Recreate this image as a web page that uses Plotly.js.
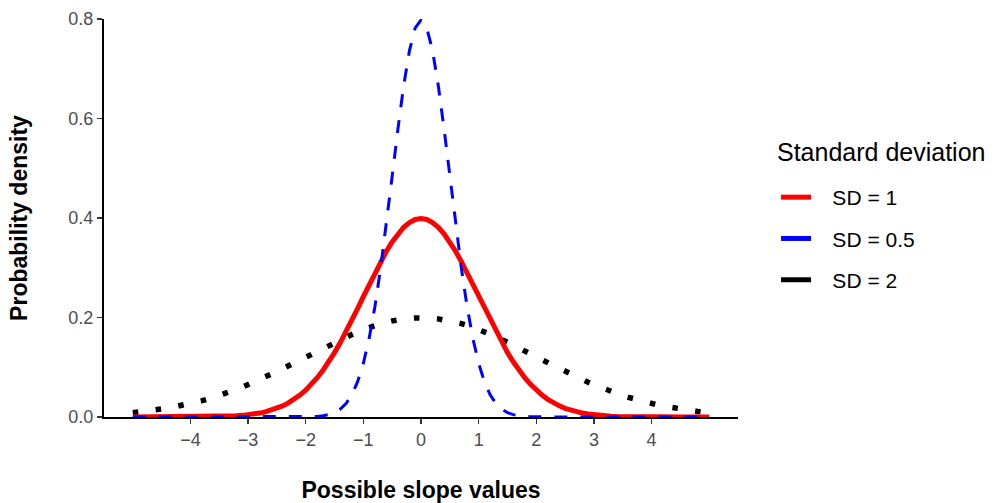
<!DOCTYPE html>
<html>
<head>
<meta charset="utf-8">
<script src="https://cdn.plot.ly/plotly-3.0.1.min.js"></script>
<style>html,body{margin:0;padding:0;background:#fff;}#chart{width:1000px;height:503px;}</style>
</head>
<body>
<div id="chart"></div>
<script>
// Possible slope values (x)
var xValues = [-5.0,-4.9,-4.8,-4.7,-4.6,-4.5,-4.4,-4.3,-4.2,-4.1,-4.0,-3.9,-3.8,-3.7,-3.6,-3.5,-3.4,-3.3,-3.2,-3.1,-3.0,-2.9,-2.8,-2.7,-2.6,-2.5,-2.4,-2.3,-2.2,-2.1,-2.0,-1.9,-1.8,-1.7,-1.6,-1.5,-1.4,-1.3,-1.2,-1.1,-1.0,-0.9,-0.8,-0.7,-0.6,-0.5,-0.4,-0.3,-0.2,-0.1,0.0,0.1,0.2,0.3,0.4,0.5,0.6,0.7,0.8,0.9,1.0,1.1,1.2,1.3,1.4,1.5,1.6,1.7,1.8,1.9,2.0,2.1,2.2,2.3,2.4,2.5,2.6,2.7,2.8,2.9,3.0,3.1,3.2,3.3,3.4,3.5,3.6,3.7,3.8,3.9,4.0,4.1,4.2,4.3,4.4,4.5,4.6,4.7,4.8,4.9,5.0];

// SD = 1
var densitySD1 = [0,0,0,0,0,0,0,0,0.0001,0.0001,0.0001,0.0002,0.0003,0.0004,0.0006,0.0009,0.0012,0.0017,0.0024,0.0033,0.0044,0.0060,0.0079,0.0104,0.0136,0.0175,0.0224,0.0283,0.0355,0.0440,0.0540,0.0656,0.0790,0.0940,0.1109,0.1295,0.1497,0.1714,0.1942,0.2179,0.2420,0.2661,0.2897,0.3123,0.3332,0.3521,0.3683,0.3814,0.3910,0.3970,0.3989,0.3970,0.3910,0.3814,0.3683,0.3521,0.3332,0.3123,0.2897,0.2661,0.2420,0.2179,0.1942,0.1714,0.1497,0.1295,0.1109,0.0940,0.0790,0.0656,0.0540,0.0440,0.0355,0.0283,0.0224,0.0175,0.0136,0.0104,0.0079,0.0060,0.0044,0.0033,0.0024,0.0017,0.0012,0.0009,0.0006,0.0004,0.0003,0.0002,0.0001,0.0001,0.0001,0,0,0,0,0,0,0,0];

// SD = 0.5
var densitySD05 = [0,0,0,0,0,0,0,0,0,0,0,0,0,0,0,0,0,0,0,0,0,0,0,0,0,0,0,0,0,0.0001,0.0003,0.0006,0.0012,0.0025,0.0048,0.0089,0.0158,0.0271,0.0448,0.0709,0.1080,0.1579,0.2218,0.2995,0.3884,0.4839,0.5794,0.6664,0.7365,0.7821,0.7979,0.7821,0.7365,0.6664,0.5794,0.4839,0.3884,0.2995,0.2218,0.1579,0.1080,0.0709,0.0448,0.0271,0.0158,0.0089,0.0048,0.0025,0.0012,0.0006,0.0003,0.0001,0,0,0,0,0,0,0,0,0,0,0,0,0,0,0,0,0,0,0,0,0,0,0,0,0,0,0,0,0];

// SD = 2
var densitySD2 = [0.0088,0.0099,0.0112,0.0126,0.0142,0.0159,0.0177,0.0198,0.0220,0.0244,0.0270,0.0298,0.0328,0.0360,0.0395,0.0431,0.0470,0.0511,0.0555,0.0600,0.0648,0.0697,0.0749,0.0802,0.0857,0.0913,0.0971,0.1030,0.1089,0.1149,0.1210,0.1270,0.1330,0.1390,0.1448,0.1506,0.1561,0.1615,0.1666,0.1715,0.1760,0.1803,0.1841,0.1876,0.1907,0.1933,0.1955,0.1972,0.1985,0.1992,0.1995,0.1992,0.1985,0.1972,0.1955,0.1933,0.1907,0.1876,0.1841,0.1803,0.1760,0.1715,0.1666,0.1615,0.1561,0.1506,0.1448,0.1390,0.1330,0.1270,0.1210,0.1149,0.1089,0.1030,0.0971,0.0913,0.0857,0.0802,0.0749,0.0697,0.0648,0.0600,0.0555,0.0511,0.0470,0.0431,0.0395,0.0360,0.0328,0.0298,0.0270,0.0244,0.0220,0.0198,0.0177,0.0159,0.0142,0.0126,0.0112,0.0099,0.0088];

var seriesNames = ['SD = 1', 'SD = 0.5', 'SD = 2'];
var legendTitle = 'Standard deviation';
var xTickVals = [-4, -3, -2, -1, 0, 1, 2, 3, 4];
var yTickVals = [0, 0.2, 0.4, 0.6, 0.8];
var yTickText = ['0.0', '0.2', '0.4', '0.6', '0.8'];

var FONT = 'Liberation Sans, Arial, Helvetica, sans-serif';
var PAD = '\u2002\u00a0';

var traces = [
  {x: xValues, y: densitySD2, mode: 'lines', showlegend: false, hoverinfo: 'skip',
   line: {color: '#000000', width: 5.5, dash: '5.5px,17.5px'}},
  {x: xValues, y: densitySD1, mode: 'lines', showlegend: false, hoverinfo: 'skip',
   line: {color: '#FF0000', width: 5}},
  {x: xValues, y: densitySD05, mode: 'lines', showlegend: false, hoverinfo: 'skip',
   line: {color: '#0000FF', width: 3, dash: '13px,13px'}},
  // legend keys (solid)
  {x: [null], y: [null], mode: 'lines', name: PAD + seriesNames[0], legendgroup: 'a', line: {color: '#FF0000', width: 5}},
  {x: [null], y: [null], mode: 'lines', name: PAD + seriesNames[1], legendgroup: 'b', line: {color: '#0000FF', width: 5}},
  {x: [null], y: [null], mode: 'lines', name: PAD + seriesNames[2], legendgroup: 'c', line: {color: '#000000', width: 5}}
];

var layout = {
  width: 1000, height: 503,
  margin: {l: 104, r: 262, t: 19, b: 86},
  paper_bgcolor: '#ffffff', plot_bgcolor: '#ffffff',
  font: {family: FONT, color: '#000000'},
  showlegend: true,
  legend: {
    x: 1.06, xanchor: 'left', y: 0.603, yanchor: 'top',
    font: {size: 21, color: '#000000', family: FONT},
    itemwidth: 30,
    tracegroupgap: 11,
    traceorder: 'grouped',
    bgcolor: 'rgba(0,0,0,0)'
  },
  annotations: [{
    text: legendTitle, xref: 'paper', yref: 'paper', x: 1.059, y: 0.665,
    xanchor: 'left', yanchor: 'middle', showarrow: false,
    font: {size: 25, color: '#000000', family: FONT}
  }],
  xaxis: {
    range: [-5.5, 5.5], tickmode: 'array', tickvals: xTickVals,
    showgrid: false, zeroline: false,
    showline: true, linecolor: '#000000', linewidth: 2,
    ticks: 'outside', ticklen: 5, tickwidth: 1.5, tickcolor: '#333333',
    tickfont: {size: 18, color: '#4d4d4d', family: FONT},
    title: {text: '<b>Possible slope values</b>', font: {size: 23, color: '#000000', family: FONT}, standoff: 45}
  },
  yaxis: {
    range: [0, 0.8], tickmode: 'array', tickvals: yTickVals, ticktext: yTickText,
    showgrid: false, zeroline: false,
    showline: true, linecolor: '#000000', linewidth: 2,
    ticks: 'outside', ticklen: 5, tickwidth: 1.5, tickcolor: '#333333',
    tickfont: {size: 18, color: '#4d4d4d', family: FONT},
    title: {text: '<b>Probability density</b>', font: {size: 23, color: '#000000', family: FONT}, standoff: 34}
  }
};

Plotly.newPlot('chart', traces, layout, {staticPlot: true, displayModeBar: false});
</script>
</body>
</html>
